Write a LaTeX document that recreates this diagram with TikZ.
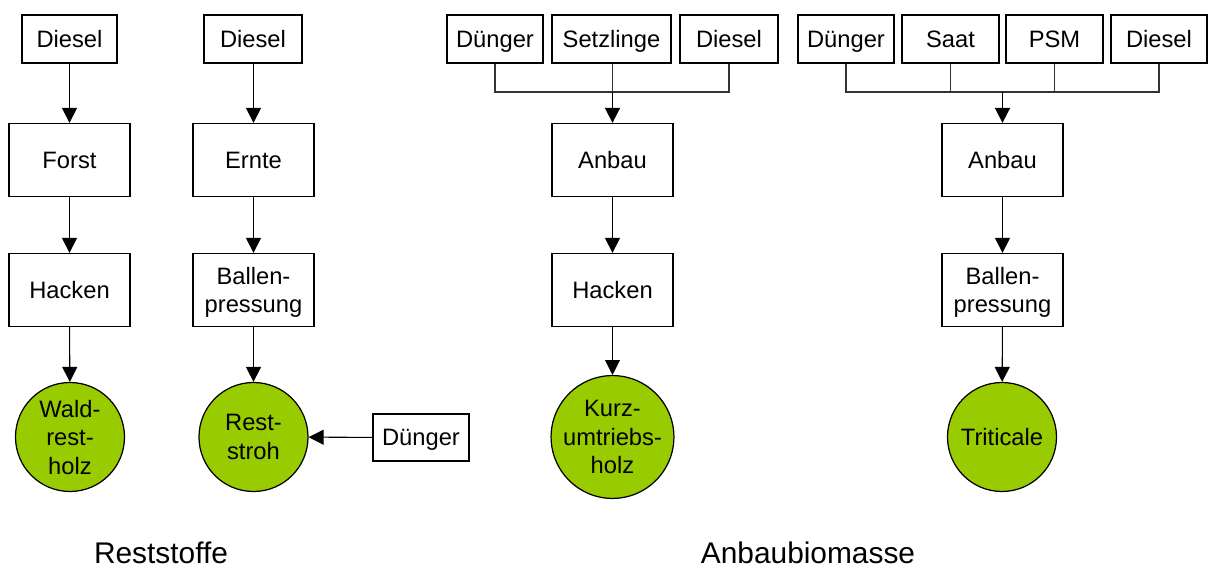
\documentclass[tikz,border=0pt]{standalone}
\usepackage{fontspec}
\setmainfont{Liberation Sans}
\usetikzlibrary{arrows.meta}
\definecolor{leaf}{HTML}{99CC00}
\begin{document}
\begin{tikzpicture}[x=0.02cm,y=-0.02cm,
  every node/.style={font=\fontsize{13.5}{16.2}\selectfont, align=center, inner sep=0pt, text depth=0pt},
  bx/.style 2 args={draw=black, line width=0.7pt, fill=white, minimum width=#1*0.02cm, minimum height=#2*0.02cm},
  proc/.style={bx={121}{73}},
  product/.style={draw=black, line width=0.7pt, fill=leaf, circle, minimum size=109*0.02cm},
  arr/.style={draw=black, line width=0.6pt, -{Triangle[length=8.5pt,width=8.5pt]}},
  feed/.style={draw=black!80, line width=0.65pt},
  group/.style={font=\fontsize{17}{20}\selectfont}]
\useasboundingbox (0,0) rectangle (1208,567);

% --- Waldrestholz chain
\node[bx={95}{48}] (d1) at (69.5,39) {Diesel};
\node[proc] (forst) at (69.5,160) {Forst};
\node[proc] (hacken1) at (69.5,290) {Hacken};
\node[product] (wald) at (70,437) {Wald-\\rest-\\holz};
\draw[arr] (d1) -- (forst);
\draw[arr] (forst) -- (hacken1);
\draw[arr] (hacken1) -- (wald);

% --- Reststroh chain
\node[bx={98}{48}] (d2) at (253,39) {Diesel};
\node[proc] (ernte) at (253.5,160) {Ernte};
\node[proc] (ballen1) at (253.5,290) {Ballen-\\pressung};
\node[product] (rest) at (253.5,437) {Rest-\\stroh};
\node[bx={96}{47}] (dside) at (421,437.5) {Dünger};
\draw[arr] (d2.south -| ernte) -- (ernte);
\draw[arr] (ernte) -- (ballen1);
\draw[arr] (ballen1) -- (rest);
\draw[arr] (dside) -- (rest);

% --- Kurzumtriebsholz chain
\node[bx={96}{48}] (mdung) at (495,39) {Dünger};
\node[bx={119}{48}] (msetz) at (611.5,39) {Setzlinge};
\node[bx={98}{48}] (mdies) at (729,39) {Diesel};
\node[proc] (anbau1) at (612.5,160) {Anbau};
\node[proc] (hacken2) at (612.5,290) {Hacken};
\node[product] (kurz) at (612.5,437) {Kurz-\\umtriebs-\\holz};
\coordinate (jm) at (612.5,92);
\draw[feed] (mdung.south) |- (jm) -| (mdies.south);
\draw[feed] (msetz.south -| jm) -- (jm);
\draw[arr, line width=0.9pt] (jm) -- (anbau1);
\draw[arr] (anbau1) -- (hacken2);
\draw[arr] (hacken2) -- (kurz);

% --- Triticale chain
\node[bx={96}{48}] (rdung) at (846,39) {Dünger};
\node[bx={97}{48}] (rsaat) at (950.5,39) {Saat};
\node[bx={97}{48}] (rpsm) at (1054.5,39) {PSM};
\node[bx={96}{48}] (rdies) at (1159,39) {Diesel};
\node[proc] (anbau2) at (1002.5,160) {Anbau};
\node[proc] (ballen2) at (1002.5,290) {Ballen-\\pressung};
\node[product] (trit) at (1002,437) {Triticale};
\coordinate (jr) at (1002.5,92);
\draw[feed] (rdung.south) |- (jr) -| (rdies.south);
\draw[feed] (rsaat.south) -- (rsaat.south |- jr);
\draw[feed] (rpsm.south) -- (rpsm.south |- jr);
\draw[arr, line width=0.9pt] (jr) -- (anbau2);
\draw[arr] (anbau2) -- (ballen2);
\draw[arr] (ballen2) -- (trit);

% --- group captions
\node[group, anchor=base] (cap1) at (161,564) {Reststoffe};
\node[group, anchor=base] (cap2) at (808,564) {Anbaubiomasse};
\end{tikzpicture}
\end{document}
